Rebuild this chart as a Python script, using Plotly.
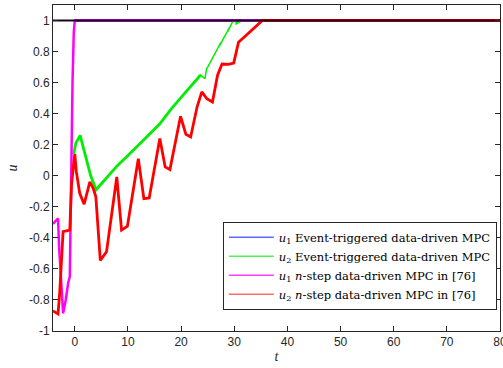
import plotly.graph_objects as go

# Control inputs over time for the two MPC schemes
t_u1_n = [-4.1, -3.15, -2.95, -2.75, -2.2, -1.7, -1.25, -0.94, -0.75, -0.62, -0.43, -0.19, 0.0, 80.0]
u1_n = [-0.31, -0.275, -0.46, -0.59, -0.886, -0.80, -0.69, -0.65, -0.02, 0.30, 0.60, 0.925, 1.0, 1.0]

t_u2_n = [-4.1, -3.15, -2.83, -2.2, -0.94, -0.6, 0.0, 0.3, 0.94, 1.76, 2.83, 3.45, 3.96,
          4.8, 5.97, 7.9, 8.8, 9.9, 11.95, 13.0, 14.0, 16.0, 17.0, 17.9, 19.9, 20.9,
          21.8, 23.0, 23.9, 24.85, 25.9, 26.85, 27.7, 28.9, 29.9, 30.8, 32.1, 33.6,
          34.9, 35.3, 80.0]
u2_n = [-0.87, -0.89, -0.75, -0.36, -0.35, -0.05, 0.14, 0.025, -0.115, -0.183, -0.04, -0.08, -0.135,
        -0.545, -0.49, -0.008, -0.35, -0.325, 0.11, -0.147, -0.143, 0.24, 0.057, 0.04, 0.383, 0.267,
        0.25, 0.443, 0.54, 0.496, 0.475, 0.646, 0.72, 0.717, 0.726, 0.86, 0.90, 0.946,
        0.99, 1.0, 1.0]

t_u1_et = [0.0, 80.0]
u1_et = [1.0, 1.0]

t_u2_et = [-0.2, 0.2, 1.0, 2.0, 3.0, 4.0, 5.0, 6.0, 7.0, 8.0, 10.0, 12.0, 14.0, 16.0, 18.0,
           20.0, 22.0, 23.6]
u2_et = [0.14, 0.21, 0.26, 0.13, 0.0, -0.09, -0.05, -0.01, 0.03, 0.065, 0.13, 0.196, 0.265,
         0.335, 0.425, 0.505, 0.585, 0.646]

# Later triggered updates overlap and zigzag before saturating
t_u2_et_tail = [22.0, 23.6, 24.5, 24.8, 25.0, 25.9, 25.6, 26.7, 26.4, 27.5, 27.2, 28.3, 28.0,
                29.1, 28.8, 29.8, 30.6, 30.2, 31.5, 80.0]
u2_et_tail = [0.585, 0.650, 0.625, 0.690, 0.700, 0.760, 0.735, 0.810, 0.785, 0.860, 0.835, 0.910, 0.885,
              0.955, 0.930, 1.0, 0.985, 0.975, 1.0, 1.0]

t_limit = [-4.1, 80.0]
u_limit = [1.0, 1.0]

x_ticks = [0, 10, 20, 30, 40, 50, 60, 70, 80]
y_ticks = [-1, -0.8, -0.6, -0.4, -0.2, 0, 0.2, 0.4, 0.6, 0.8, 1]
y_tick_text = ["-1", "-0.8", "-0.6", "-0.4", "-0.2", "0", "0.2", "0.4", "0.6", "0.8", "1"]

legend_names = [
    "<i>u</i><sub>1</sub> Event-triggered data-driven MPC",
    "<i>u</i><sub>2</sub> Event-triggered data-driven MPC",
    "<i>u</i><sub>1</sub> <i>n</i>-step data-driven MPC in [76]",
    "<i>u</i><sub>2</sub> <i>n</i>-step data-driven MPC in [76]",
]
legend_colors = ["#5a6cff", "#55f055", "#ff3cff", "#ff6a6a"]

BLUE, GREEN, MAGENTA, RED = "#0000ff", "#00ee00", "#ff00ff", "#ff0000"

fig = go.Figure()
fig.add_trace(go.Scatter(x=t_u1_et, y=u1_et, mode="lines", line=dict(color=BLUE, width=2.5),
                         showlegend=False))
fig.add_trace(go.Scatter(x=t_u2_et_tail, y=u2_et_tail, mode="lines",
                         line=dict(color=GREEN, width=1.5), showlegend=False))
fig.add_trace(go.Scatter(x=t_u2_et, y=u2_et, mode="lines", line=dict(color=GREEN, width=2.8),
                         showlegend=False))
fig.add_trace(go.Scatter(x=t_u1_n, y=u1_n, mode="lines", line=dict(color=MAGENTA, width=2.5),
                         showlegend=False))
fig.add_trace(go.Scatter(x=t_u2_n, y=u2_n, mode="lines", line=dict(color=RED, width=2.8),
                         showlegend=False))
fig.add_trace(go.Scatter(x=t_limit, y=u_limit, mode="lines", line=dict(color="#1a061a", width=2.2),
                         showlegend=False))

# Legend entries drawn with thin sample lines
for name, col in zip(legend_names, legend_colors):
    fig.add_trace(go.Scatter(x=[None], y=[None], mode="lines", name=name,
                             line=dict(color=col, width=1.5)))

axis_common = dict(
    showline=True, linecolor="#262626", linewidth=1, mirror="ticks",
    ticks="inside", ticklen=5, tickcolor="#262626", tickwidth=1,
    showgrid=False, zeroline=False, ticklabeloverflow="allow", automargin=False,
    tickfont=dict(family="Liberation Sans, Arial, sans-serif", size=12, color="#262626"),
)

fig.update_xaxes(range=[-4.1, 80], tickvals=x_ticks,
                 title=dict(text="<i>t</i>", standoff=2,
                            font=dict(family="Liberation Serif, serif", size=14, color="#262626")),
                 **axis_common)
fig.update_yaxes(range=[-1, 1.1], tickvals=y_ticks, ticktext=y_tick_text,
                 title=dict(text="<i>u</i>", standoff=8,
                            font=dict(family="Liberation Serif, serif", size=14, color="#262626")),
                 **axis_common)

fig.update_layout(
    width=503, height=368,
    margin=dict(l=53, r=3, t=5, b=37),
    plot_bgcolor="white", paper_bgcolor="white",
    legend=dict(
        x=0.993, y=0.065, xanchor="right", yanchor="bottom",
        bgcolor="white", bordercolor="#262626", borderwidth=1,
        font=dict(family="DejaVu Serif, serif", size=11.5, color="#000000"),
        itemwidth=45, tracegroupgap=0,
    ),
)

fig.write_html("out.html")
